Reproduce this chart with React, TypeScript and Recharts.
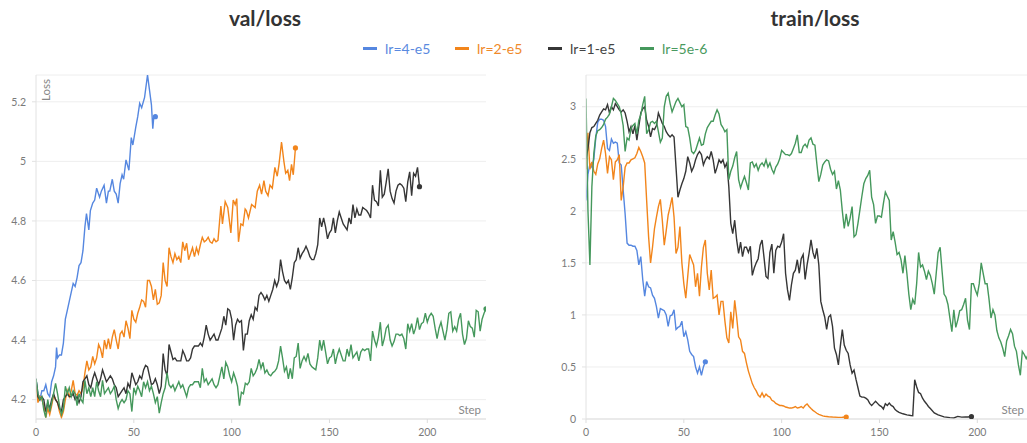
import { LineChart, Line, XAxis, YAxis, CartesianGrid } from "recharts";

// [step, value] pairs
const VAL_4E5: [number, number][] = [
  [0, 4.27], [1, 4.22], [2, 4.2], [3, 4.23], [4, 4.23], [5, 4.25], [6, 4.22], [7, 4.21], [8, 4.26], [9, 4.28],
  [10, 4.31], [10.5, 4.375], [11, 4.34], [12, 4.35], [13, 4.35], [14, 4.39], [15, 4.47], [16, 4.5], [17, 4.53],
  [18, 4.56], [19, 4.59], [20, 4.58], [21, 4.61], [22, 4.65], [23, 4.66], [24, 4.7], [25, 4.78], [25.8, 4.825],
  [27, 4.77], [27.8, 4.835], [29, 4.86], [30, 4.87], [31, 4.91], [32.5, 4.88], [33.4, 4.9], [34.8, 4.92],
  [36, 4.86], [37, 4.9], [37.7, 4.9], [39, 4.94], [40, 4.9], [41, 4.89], [42, 4.86], [43, 4.925], [44, 4.955],
  [44.8, 4.94], [46, 5.005], [47.5, 4.97], [48.7, 5.08], [49.5, 5.055], [51, 5.115], [52, 5.15], [53, 5.195],
  [54, 5.18], [55.5, 5.215], [57, 5.29], [58, 5.24], [59, 5.19], [59.7, 5.11], [60.2, 5.15], [61, 5.15],
];

const VAL_2E5: [number, number][] = [
  [0, 4.26], [1, 4.19], [2, 4.21], [3, 4.2], [4, 4.18], [5, 4.14], [6, 4.17], [7, 4.15], [8, 4.18], [9, 4.215],
  [10, 4.2], [11, 4.19], [12, 4.16], [13, 4.14], [14, 4.16], [15, 4.2], [16, 4.23], [17, 4.21], [18, 4.23],
  [19, 4.265], [20, 4.22], [21, 4.215], [22, 4.23], [23, 4.22], [24, 4.24], [25, 4.29], [26, 4.33], [27, 4.3],
  [28, 4.31], [29, 4.345], [30, 4.32], [31, 4.34], [32, 4.385], [33, 4.37], [34, 4.34], [35, 4.4], [36, 4.37],
  [37, 4.405], [38, 4.37], [39, 4.41], [40, 4.435], [41, 4.4], [42, 4.37], [43, 4.42], [44, 4.43], [45, 4.41],
  [46, 4.465], [47, 4.44], [48, 4.405], [49, 4.5], [50, 4.47], [51, 4.46], [52, 4.49], [53, 4.51], [54, 4.535],
  [55, 4.53], [56, 4.51], [57, 4.6], [58, 4.6], [59, 4.58], [60, 4.535], [61, 4.57], [62, 4.52], [63, 4.525],
  [64, 4.55], [65, 4.66], [66, 4.6], [67, 4.58], [68, 4.71], [69, 4.68], [70, 4.66], [71, 4.69], [72, 4.67],
  [73, 4.68], [74, 4.66], [75, 4.73], [76, 4.7], [77, 4.725], [78, 4.67], [79, 4.69], [80, 4.71], [81, 4.68],
  [82, 4.71], [83, 4.69], [84, 4.72], [85, 4.745], [86, 4.73], [87, 4.735], [88, 4.745], [89, 4.73], [90, 4.725],
  [91, 4.74], [92, 4.73], [93, 4.735], [94.5, 4.85], [95.3, 4.79], [96.7, 4.865], [98, 4.845], [99.6, 4.76],
  [100.8, 4.87], [101.8, 4.855], [102.6, 4.875], [103.5, 4.73], [104.7, 4.79], [105.8, 4.785], [106.9, 4.84],
  [107.5, 4.835], [108.6, 4.81], [110.2, 4.855], [112, 4.845], [113.1, 4.9], [114.3, 4.92], [115.3, 4.89],
  [116.5, 4.935], [117.4, 4.9], [118.6, 4.885], [119.6, 4.92], [120.8, 4.91], [122.1, 4.98], [123.3, 4.95],
  [124.2, 4.99], [125.5, 5.065], [126.7, 5.0], [127.6, 4.96], [128.7, 4.97], [129.6, 4.935], [130.6, 4.99],
  [131.5, 4.955], [132.6, 5.045],
];

const VAL_1E5: [number, number][] = [
  [0, 4.27], [1, 4.21], [2, 4.2], [3, 4.21], [4, 4.2], [5, 4.16], [6, 4.19], [7, 4.17], [8, 4.2], [9, 4.22],
  [10, 4.2], [11, 4.19], [12, 4.17], [13, 4.16], [14, 4.2], [15, 4.21], [16, 4.22], [17, 4.21], [18, 4.21],
  [19, 4.22], [20, 4.2], [21, 4.21], [22, 4.19], [23, 4.21], [24, 4.26], [25, 4.27], [26, 4.28], [27, 4.25],
  [28, 4.24], [29, 4.27], [30, 4.29], [31, 4.27], [32, 4.25], [33, 4.27], [34, 4.3], [35, 4.28], [36, 4.26],
  [37, 4.27], [38, 4.28], [39, 4.27], [40, 4.25], [41, 4.24], [42, 4.21], [43, 4.22], [44, 4.23], [45, 4.24],
  [46, 4.22], [47, 4.255], [48, 4.24], [49, 4.29], [50, 4.27], [51, 4.25], [52, 4.26], [53, 4.28], [54, 4.27],
  [55, 4.3], [56, 4.315], [57, 4.31], [58, 4.28], [59, 4.25], [60, 4.255], [61, 4.27], [62, 4.25], [63, 4.22],
  [64, 4.245], [65, 4.355], [66, 4.3], [67, 4.28], [68, 4.385], [69, 4.36], [70, 4.335], [71, 4.34], [72, 4.33],
  [73, 4.33], [74, 4.33], [75, 4.365], [76, 4.35], [77, 4.33], [78, 4.33], [79, 4.34], [80, 4.37], [81, 4.38],
  [82, 4.38], [83, 4.38], [84, 4.39], [85, 4.38], [86, 4.41], [87, 4.45], [88, 4.42], [89, 4.4], [90, 4.41],
  [91, 4.42], [92, 4.4], [93, 4.4], [94, 4.42], [95, 4.44], [96, 4.48], [97, 4.45], [98, 4.505], [99, 4.5],
  [100, 4.47], [101, 4.4], [102, 4.45], [103, 4.47], [104, 4.46], [105, 4.465], [106, 4.365], [107, 4.42],
  [108, 4.42], [109, 4.465], [110, 4.485], [111, 4.47], [112, 4.51], [113, 4.5], [114, 4.55], [115, 4.56],
  [116, 4.55], [117, 4.535], [118, 4.55], [119, 4.53], [120, 4.55], [121, 4.57], [122, 4.6], [123, 4.58],
  [124, 4.6], [125, 4.67], [126, 4.63], [127, 4.6], [128, 4.59], [129, 4.6], [130, 4.57], [131, 4.61],
  [132, 4.66], [133, 4.67], [134, 4.71], [135, 4.675], [136, 4.69], [137, 4.7], [138, 4.715], [139, 4.7],
  [140, 4.68], [141, 4.67], [142, 4.67], [143, 4.69], [144, 4.72], [145, 4.81], [146, 4.78], [147, 4.81],
  [148, 4.78], [149, 4.74], [150, 4.76], [151, 4.77], [152, 4.81], [153, 4.76], [154, 4.8], [155, 4.83],
  [156, 4.81], [157, 4.79], [158, 4.78], [159, 4.77], [160, 4.81], [161, 4.79], [162, 4.855], [163, 4.81],
  [164, 4.84], [165, 4.82], [166, 4.82], [167, 4.845], [168, 4.84], [169, 4.835], [170, 4.825], [171, 4.81],
  [172, 4.92], [173, 4.87], [174, 4.865], [175, 4.85], [176, 4.97], [177, 4.88], [178, 4.89], [179, 4.93],
  [180, 4.975], [181, 4.9], [182, 4.875], [183, 4.86], [184, 4.9], [185, 4.92], [186, 4.925], [187, 4.92],
  [188, 4.91], [189, 4.865], [190, 4.93], [191, 4.965], [192, 4.885], [193, 4.96], [194, 4.95], [195, 4.98],
  [196, 4.915],
];

const VAL_5E6: [number, number][] = [
  [0, 4.27], [1, 4.22], [2, 4.2], [3, 4.21], [4, 4.165], [5, 4.14], [6, 4.2], [7, 4.16], [8, 4.19], [9, 4.22],
  [10, 4.255], [11, 4.22], [12, 4.18], [13, 4.15], [14, 4.17], [15, 4.245], [16, 4.22], [17, 4.24], [18, 4.21],
  [19, 4.23], [20, 4.22], [21, 4.18], [22, 4.22], [23, 4.2], [24, 4.19], [25, 4.265], [26, 4.22], [27, 4.24],
  [28, 4.21], [29, 4.24], [30, 4.21], [31, 4.26], [32, 4.23], [33, 4.21], [34, 4.265], [35, 4.22], [36, 4.23],
  [37, 4.24], [38, 4.22], [39, 4.23], [40, 4.245], [41, 4.2], [42, 4.17], [43, 4.19], [44, 4.2], [45, 4.19],
  [46, 4.2], [47, 4.23], [48, 4.22], [49, 4.16], [50, 4.24], [51, 4.22], [52, 4.245], [53, 4.23], [54, 4.21],
  [55, 4.26], [56, 4.24], [57, 4.26], [58, 4.23], [59, 4.245], [60, 4.22], [61, 4.19], [62, 4.21], [63, 4.155],
  [64, 4.19], [65, 4.22], [66, 4.24], [67, 4.29], [68, 4.25], [69, 4.24], [70, 4.25], [71, 4.23], [72, 4.245],
  [73, 4.26], [74, 4.24], [75, 4.25], [76, 4.23], [77, 4.21], [78, 4.24], [79, 4.25], [80, 4.25], [81, 4.26],
  [82, 4.26], [83, 4.26], [84, 4.24], [85, 4.305], [86, 4.26], [87, 4.27], [88, 4.25], [89, 4.26], [90, 4.27],
  [91, 4.25], [92, 4.24], [93, 4.25], [94, 4.28], [95, 4.31], [96, 4.27], [97, 4.325], [98, 4.31], [99, 4.28],
  [100, 4.26], [101, 4.29], [102, 4.27], [103, 4.245], [104, 4.18], [105, 4.225], [106, 4.22], [107, 4.255],
  [108, 4.25], [109, 4.26], [110, 4.305], [111, 4.28], [112, 4.29], [113, 4.305], [114, 4.335], [115, 4.305],
  [116, 4.325], [117, 4.29], [118, 4.3], [119, 4.285], [120, 4.28], [121, 4.29], [122, 4.295], [123, 4.305],
  [124, 4.33], [125, 4.38], [126, 4.34], [127, 4.295], [128, 4.31], [129, 4.27], [130, 4.305], [131, 4.27],
  [132, 4.34], [133, 4.345], [134, 4.39], [135, 4.305], [136, 4.33], [137, 4.345], [138, 4.33], [139, 4.355],
  [140, 4.32], [141, 4.31], [142, 4.305], [143, 4.3], [144, 4.34], [145, 4.4], [146, 4.365], [147, 4.4],
  [148, 4.36], [149, 4.32], [150, 4.34], [151, 4.345], [152, 4.37], [153, 4.32], [154, 4.35], [155, 4.37],
  [156, 4.35], [157, 4.33], [158, 4.33], [159, 4.37], [160, 4.345], [161, 4.385], [162, 4.34], [163, 4.35],
  [164, 4.36], [165, 4.33], [166, 4.36], [167, 4.37], [168, 4.365], [169, 4.37], [170, 4.37], [171, 4.33],
  [172, 4.43], [173, 4.4], [174, 4.38], [175, 4.41], [176, 4.46], [177, 4.38], [178, 4.405], [179, 4.44],
  [180, 4.45], [181, 4.4], [182, 4.38], [183, 4.395], [184, 4.42], [185, 4.42], [186, 4.415], [187, 4.42],
  [188, 4.405], [189, 4.37], [190, 4.455], [191, 4.43], [192, 4.455], [193, 4.42], [194, 4.44], [195, 4.475],
  [196, 4.435], [197, 4.455], [198, 4.46], [199, 4.49], [200, 4.46], [201, 4.48], [202, 4.49], [203, 4.48],
  [204, 4.44], [205, 4.405], [206, 4.44], [207, 4.46], [208, 4.43], [209, 4.4], [210, 4.435], [211, 4.49],
  [212, 4.495], [213, 4.43], [214, 4.445], [215, 4.43], [216, 4.47], [217, 4.49], [218, 4.42], [219, 4.385],
  [220, 4.405], [221, 4.465], [222, 4.445], [223, 4.44], [224, 4.41], [225, 4.5], [226, 4.495], [227, 4.43],
  [228, 4.47], [229, 4.49], [230, 4.505],
];

const TRAIN_4E5: [number, number][] = [
  [0, 2.1], [1, 2.35], [2, 2.45], [3, 2.42], [4, 2.5], [5, 2.7], [6, 2.85], [7, 2.88], [8, 2.88], [9, 2.87],
  [10, 2.81], [11, 2.6], [12, 2.58], [13, 2.69], [14, 2.65], [15, 2.66], [16, 2.65], [17, 2.46], [18, 2.44],
  [19, 2.2], [20, 1.97], [21, 1.69], [22, 1.67], [23, 1.67], [24, 1.66], [25, 1.66], [26, 1.62], [27, 1.48],
  [28, 1.56], [29, 1.34], [30, 1.18], [31, 1.32], [32, 1.27], [33, 1.26], [34, 1.19], [35, 1.16], [36, 1.08],
  [37, 0.97], [38, 1.06], [39, 1.05], [40, 1.04], [41, 1.0], [42, 0.89], [43, 0.99], [44, 1.0], [45, 1.05],
  [46, 0.86], [47, 0.88], [48, 0.89], [49, 0.94], [50, 0.79], [51, 0.84], [52, 0.76], [53, 0.65], [54, 0.62],
  [55, 0.6], [56, 0.5], [57, 0.44], [58, 0.5], [59, 0.42], [60, 0.5], [61, 0.55],
];

const TRAIN_2E5: [number, number][] = [
  [0, 2.4], [1, 2.75], [2, 2.4], [3, 2.47], [4, 2.38], [5, 2.35], [6, 2.45], [7, 2.5], [8, 2.6], [9, 2.68],
  [10, 2.55], [11, 2.36], [12, 2.52], [13, 2.49], [14, 2.3], [15, 2.47], [16, 2.49], [17, 2.54], [18, 2.1],
  [19, 2.23], [20, 2.42], [21, 2.46], [22, 2.46], [23, 2.49], [24, 2.5], [25, 2.51], [26, 2.55], [27, 2.61],
  [28, 2.57], [29, 2.52], [30, 2.46], [31, 2.1], [32, 1.75], [33, 1.5], [34, 1.65], [35, 1.83], [36, 1.94],
  [37, 2.04], [38, 2.11], [39, 1.91], [40, 1.67], [41, 1.81], [42, 1.96], [43, 2.04], [44, 2.13], [45, 1.94],
  [46, 1.59], [47, 1.65], [48, 1.85], [49, 1.5], [50, 1.3], [51, 1.16], [52, 1.37], [53, 1.58], [54, 1.53],
  [55, 1.48], [56, 1.27], [57, 1.4], [58, 1.18], [59, 1.46], [60, 1.65], [61, 1.72], [62, 1.4], [63, 1.24],
  [64, 1.43], [65, 1.16], [66, 1.17], [67, 1.19], [68, 1.0], [69, 1.13], [70, 1.13], [71, 0.94], [72, 0.78],
  [73, 0.73], [74, 1.03], [75, 0.87], [76, 1.14], [77, 0.98], [78, 0.79], [79, 0.76], [80, 0.65], [81, 0.63],
  [82, 0.54], [83, 0.46], [84, 0.4], [85, 0.34], [86, 0.3], [87, 0.27], [88, 0.23], [89, 0.21], [90, 0.25],
  [91, 0.21], [92, 0.24], [93, 0.22], [94, 0.21], [95, 0.18], [96, 0.17], [97, 0.15], [98, 0.14], [99, 0.13],
  [100, 0.13], [101, 0.125], [102, 0.115], [103, 0.11], [104, 0.105], [105, 0.105], [106, 0.11], [107, 0.12],
  [108, 0.105], [109, 0.11], [110, 0.12], [111, 0.105], [112, 0.13], [113, 0.145], [114, 0.12], [115, 0.1],
  [116, 0.083], [117, 0.07], [118, 0.055], [119, 0.045], [120, 0.038], [121, 0.03], [122, 0.027], [124, 0.022],
  [126, 0.019], [129, 0.016], [131, 0.017], [133, 0.019],
];

const TRAIN_1E5: [number, number][] = [
  [0, 2.5], [1, 2.6], [2, 2.75], [3, 2.8], [4, 2.81], [5, 2.84], [6, 2.87], [7, 2.92], [8, 2.95], [9, 2.98],
  [10, 2.97], [11, 3.02], [12, 2.94], [13, 3.0], [14, 2.97], [15, 3.03], [16, 3.0], [17, 2.97], [18, 2.95],
  [19, 2.97], [20, 2.94], [21, 2.86], [22, 2.76], [23, 2.81], [24, 2.74], [25, 2.82], [26, 2.68], [27, 2.81],
  [28, 2.94], [29, 2.98], [30, 3.0], [31, 2.87], [32, 2.81], [33, 2.71], [34, 2.79], [35, 2.78], [36, 2.82],
  [37, 2.94], [38, 2.89], [39, 2.84], [40, 2.81], [41, 2.76], [42, 2.73], [43, 2.71], [44, 2.73], [45, 2.71],
  [46, 2.42], [47, 2.13], [48, 2.2], [49, 2.26], [50, 2.31], [51, 2.38], [52, 2.52], [53, 2.46], [54, 2.38],
  [55, 2.42], [56, 2.49], [57, 2.54], [58, 2.57], [59, 2.54], [60, 2.44], [61, 2.49], [62, 2.52], [63, 2.5],
  [64, 2.57], [65, 2.49], [66, 2.36], [67, 2.42], [68, 2.49], [69, 2.46], [70, 2.49], [71, 2.42], [72, 2.46],
  [73, 2.23], [74, 1.88], [75, 1.78], [76, 1.91], [77, 1.72], [78, 1.59], [79, 1.7], [80, 1.56], [81, 1.65],
  [82, 1.65], [83, 1.6], [84, 1.66], [85, 1.38], [86, 1.45], [87, 1.5], [88, 1.54], [89, 1.67], [90, 1.72],
  [91, 1.55], [92, 1.37], [93, 1.35], [94, 1.6], [95, 1.68], [96, 1.4], [97, 1.62], [98, 1.66], [99, 1.65],
  [100, 1.7], [101, 1.78], [102, 1.4], [103, 1.24], [104, 1.14], [105, 1.29], [106, 1.4], [107, 1.43],
  [108, 1.53], [109, 1.4], [110, 1.54], [111, 1.58], [112, 1.34], [113, 1.48], [114, 1.59], [115, 1.72],
  [116, 1.6], [117, 1.54], [118, 1.64], [119, 1.48], [120, 1.13], [121, 1.05], [122, 0.98], [123, 0.86],
  [124, 0.98], [125, 1.0], [126, 0.89], [127, 0.68], [128, 0.62], [129, 0.52], [130, 0.7], [131, 0.86],
  [132, 0.71], [133, 0.66], [134, 0.63], [135, 0.52], [136, 0.44], [137, 0.47], [138, 0.38], [139, 0.3],
  [140, 0.22], [141, 0.21], [142, 0.21], [143, 0.2], [144, 0.185], [145, 0.15], [146, 0.13], [147, 0.15],
  [148, 0.17], [149, 0.15], [150, 0.13], [151, 0.12], [152, 0.096], [153, 0.147], [154, 0.13], [155, 0.153],
  [156, 0.13], [157, 0.12], [158, 0.09], [159, 0.075], [160, 0.064], [162, 0.05], [164, 0.04], [166, 0.034],
  [167, 0.032], [168, 0.377], [169, 0.31], [170, 0.255], [171, 0.243], [172, 0.2], [173, 0.17], [174, 0.147],
  [175, 0.12], [176, 0.1], [178, 0.058], [180, 0.04], [183, 0.02], [186, 0.013], [188, 0.01], [190, 0.025],
  [192, 0.018], [194, 0.02], [195, 0.019], [197, 0.022],
];

const TRAIN_5E6: [number, number][] = [
  [0, 3.08], [1, 2.0], [2, 1.48], [3, 2.23], [4, 2.55], [5, 2.72], [6, 2.77], [7, 2.78], [8, 2.8], [9, 2.83],
  [10, 2.88], [11, 2.9], [12, 2.93], [13, 3.0], [14, 3.08], [15, 3.06], [16, 3.03], [17, 3.0], [18, 2.93],
  [19, 2.82], [20, 2.57], [21, 2.7], [22, 2.68], [23, 2.79], [24, 2.82], [25, 2.84], [26, 2.74], [27, 2.87],
  [28, 2.92], [29, 3.02], [30, 3.1], [31, 2.74], [32, 2.78], [33, 2.85], [34, 2.86], [35, 2.84], [36, 2.86],
  [37, 2.76], [38, 2.66], [39, 2.7], [40, 3.0], [41, 3.1], [42, 3.13], [43, 3.03], [44, 2.95], [45, 3.0],
  [46, 3.05], [47, 3.08], [48, 3.04], [49, 3.0], [50, 3.02], [51, 2.81], [52, 2.8], [53, 2.7], [54, 2.57],
  [55, 2.55], [56, 2.58], [57, 2.64], [58, 2.7], [59, 2.63], [60, 2.64], [61, 2.74], [62, 2.8], [63, 2.83],
  [64, 2.86], [65, 2.86], [66, 2.92], [67, 2.97], [68, 2.93], [69, 2.83], [70, 2.8], [71, 2.76], [72, 2.78],
  [73, 2.3], [74, 2.38], [75, 2.43], [76, 2.51], [77, 2.57], [78, 2.3], [79, 2.22], [80, 2.28], [81, 2.33],
  [82, 2.27], [83, 2.2], [84, 2.46], [85, 2.47], [86, 2.42], [87, 2.45], [88, 2.39], [89, 2.44], [90, 2.46],
  [91, 2.43], [92, 2.49], [93, 2.42], [94, 2.46], [95, 2.4], [96, 2.36], [97, 2.42], [98, 2.45], [99, 2.5],
  [100, 2.58], [101, 2.56], [102, 2.54], [103, 2.54], [104, 2.53], [105, 2.55], [106, 2.6], [107, 2.65],
  [108, 2.73], [109, 2.56], [110, 2.56], [111, 2.62], [112, 2.64], [113, 2.61], [114, 2.68], [115, 2.7],
  [116, 2.64], [117, 2.63], [118, 2.45], [119, 2.28], [120, 2.35], [121, 2.44], [122, 2.47], [123, 2.49],
  [124, 2.48], [125, 2.4], [126, 2.35], [127, 2.38], [128, 2.21], [129, 2.29], [130, 2.2], [131, 2.0],
  [132, 1.83], [133, 1.97], [134, 1.85], [135, 1.93], [136, 2.04], [137, 1.75], [138, 1.77], [139, 1.88],
  [140, 2.01], [141, 2.14], [142, 2.26], [143, 2.31], [144, 2.34], [145, 2.39], [146, 2.13], [147, 2.06],
  [148, 1.88], [149, 1.95], [150, 1.95], [151, 1.94], [152, 2.07], [153, 2.18], [154, 2.14], [155, 2.1],
  [156, 1.72], [157, 1.8], [158, 1.7], [159, 1.58], [160, 1.6], [161, 1.53], [162, 1.4], [163, 1.57],
  [164, 1.4], [165, 1.2], [166, 1.05], [167, 1.15], [168, 1.1], [169, 1.3], [170, 1.6], [171, 1.46],
  [172, 1.48], [173, 1.42], [174, 1.34], [175, 1.42], [176, 1.38], [177, 1.3], [178, 1.2], [179, 1.4],
  [180, 1.6], [181, 1.65], [182, 1.42], [183, 1.2], [184, 1.17], [185, 1.1], [186, 0.97], [187, 0.84],
  [188, 1.05], [189, 0.88], [190, 0.95], [191, 1.04], [192, 1.05], [193, 1.1], [194, 1.16], [195, 0.95],
  [196, 0.86], [197, 1.3], [198, 1.3], [199, 1.24], [200, 1.19], [201, 1.3], [202, 1.5], [203, 1.4],
  [204, 1.3], [205, 1.3], [206, 1.15], [207, 0.97], [208, 1.05], [209, 1.0], [210, 0.85], [211, 0.78],
  [212, 0.74], [213, 0.68], [214, 0.6], [215, 0.75], [216, 0.8], [217, 0.86], [218, 0.82], [219, 0.7],
  [220, 0.65], [221, 0.52], [222, 0.42], [223, 0.65], [224, 0.62], [225, 0.58], [226, 0.62], [227, 0.55],
  [228, 0.6], [229, 0.58], [230, 0.55],
];

const RUN_NAMES = ["lr=4-e5", "lr=2-e5", "lr=1-e5", "lr=5e-6"];
const RUN_COLORS = ["#5587e0", "#f2851b", "#363636", "#45985c"];
const LEGEND_TEXT = ["#5a8ae0", "#f0892a", "#444444", "#4a9a60"];

const STEP_TICKS = [0, 50, 100, 150, 200];
const VAL_TICKS = [4.2, 4.4, 4.6, 4.8, 5, 5.2];
const TRAIN_TICKS = [0, 0.5, 1, 1.5, 2, 2.5, 3];

const FONT = "Lato, 'Noto Sans', sans-serif";

const toRows = (pts: [number, number][]) => pts.map(([step, v]) => ({ step, v }));

const endDot = (color: string, last: number) => (props: any) => {
  const { cx, cy, index } = props;
  if (index !== last) return <g key={`d-${index}`} />;
  return <circle key={`d-${index}`} cx={cx} cy={cy} r={2.6} fill={color} stroke="none" />;
};

function Panel({
  series,
  yDomain,
  yTicks,
  yWidth,
  width,
}: {
  series: [number, number][][];
  yDomain: [number, number];
  yTicks: number[];
  yWidth: number;
  width: number;
}) {
  return (
    <LineChart width={width} height={443} margin={{ top: 75, right: width - yWidth - 450, bottom: 0, left: 0 }}>
      <CartesianGrid vertical={false} stroke="#eeeeee" />
      <XAxis
        dataKey="step"
        type="number"
        domain={[0, 230]}
        allowDataOverflow
        ticks={STEP_TICKS}
        height={24}
        tickSize={4}
        tickMargin={6}
        axisLine={{ stroke: "#dddddd" }}
        tickLine={{ stroke: "#dddddd" }}
        tick={{ fill: "#7a7a7a", fontSize: 10.5, fontFamily: FONT }}
      />
      <YAxis
        type="number"
        domain={yDomain}
        allowDataOverflow
        ticks={yTicks}
        width={yWidth}
        tickSize={4}
        tickMargin={6}
        axisLine={{ stroke: "#e2e2e2" }}
        tickLine={{ stroke: "#e2e2e2" }}
        tick={{ fill: "#7a7a7a", fontSize: 10.5, fontFamily: FONT }}
      />
      {series.map((pts, i) => (
        <Line
          key={RUN_NAMES[i]}
          data={toRows(pts)}
          dataKey="v"
          type="linear"
          stroke={RUN_COLORS[i]}
          strokeWidth={1.4}
          dot={endDot(RUN_COLORS[i], pts.length - 1)}
          activeDot={false}
          isAnimationActive={false}
        />
      ))}
    </LineChart>
  );
}

const LEGEND_X = [363, 455, 548, 640];

export default function App() {
  return (
    <div
      style={{
        position: "fixed",
        left: 0,
        top: 0,
        width: 1027,
        height: 443,
        overflow: "hidden",
        background: "#fff",
        fontFamily: FONT,
      }}
    >
      <div style={{ position: "absolute", left: 0, top: 0 }}>
        <Panel series={[VAL_4E5, VAL_2E5, VAL_1E5, VAL_5E6]} yDomain={[4.135, 5.29]} yTicks={VAL_TICKS} yWidth={36} width={500} />
      </div>
      <div style={{ position: "absolute", left: 536, top: 0 }}>
        <Panel series={[TRAIN_4E5, TRAIN_2E5, TRAIN_1E5, TRAIN_5E6]} yDomain={[0, 3.305]} yTicks={TRAIN_TICKS} yWidth={50} width={520} />
      </div>

      <div style={{ position: "absolute", left: 165, top: 5, width: 200, textAlign: "center", fontSize: 21, fontWeight: 700, color: "#333", lineHeight: "26px" }}>
        val/loss
      </div>
      <div style={{ position: "absolute", left: 715, top: 5, width: 200, textAlign: "center", fontSize: 21, fontWeight: 700, color: "#333", lineHeight: "26px" }}>
        train/loss
      </div>

      {RUN_NAMES.map((name, i) => (
        <div
          key={name}
          style={{ position: "absolute", left: LEGEND_X[i], top: 39, height: 18, display: "flex", alignItems: "center", whiteSpace: "nowrap" }}
        >
          <span style={{ display: "inline-block", width: 14, height: 3, background: RUN_COLORS[i], marginRight: 8 }} />
          <span style={{ fontSize: 14, color: LEGEND_TEXT[i] }}>{name}</span>
        </div>
      ))}

      <svg width={1027} height={443} style={{ position: "absolute", left: 0, top: 0, pointerEvents: "none" }}>
        <text x={50} y={79} transform="rotate(-90 50 79)" textAnchor="end" fontSize={11.5} fill="#888" fontFamily={FONT}>
          Loss
        </text>
        <text x={481} y={414} textAnchor="end" fontSize={11.5} fill="#888" fontFamily={FONT}>
          Step
        </text>
        <text x={1024} y={414} textAnchor="end" fontSize={11.5} fill="#888" fontFamily={FONT}>
          Step
        </text>
      </svg>
    </div>
  );
}
